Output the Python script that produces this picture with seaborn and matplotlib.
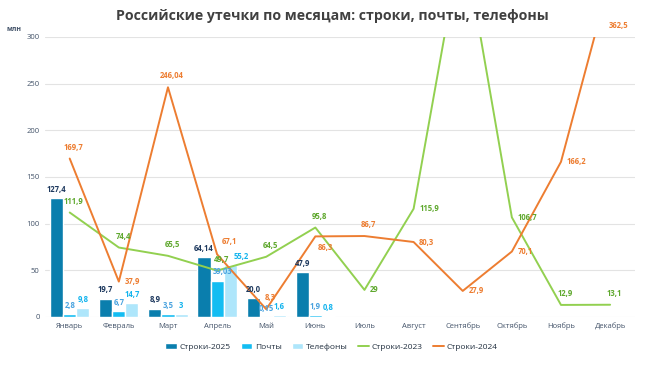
#
# Российские утечки по месяцам: строки, почты, телефоны
#
import numpy as np
import pandas as pd
import matplotlib
matplotlib.use('Agg')
import matplotlib.pyplot as plt
import seaborn as sns

# ------------------------------------------------------------- #
# Data
#
months = ['Январь', 'Февраль', 'Март', 'Апрель', 'Май', 'Июнь',
          'Июль', 'Август', 'Сентябрь', 'Октябрь', 'Ноябрь', 'Декабрь']

rows_2025 = [127.4, 19.7, 8.9, 64.14, 20.0, 47.9]
emails_2025 = [2.8, 6.7, 3.5, 39.03, 0.15, 1.9]
phones_2025 = [9.8, 14.7, 3.0, 55.2, 1.6, 0.8]

rows_2023 = [111.9, 74.4, 65.5, 49.7, 64.5, 95.8, 29, 115.9, 410, 106.7, 12.9, 13.1]
rows_2024 = [169.7, 37.9, 246.04, 67.1, 8.3, 86.3, 86.7, 80.3, 27.9, 70.1, 166.2, 362.5]

# label texts as printed on the chart (comma decimals)
lbl_2025 = ['127,4', '19,7', '8,9', '64,14', '20,0', '47,9']
lbl_emails = ['2,8', '6,7', '3,5', '39,03', '0,15', '1,9']
lbl_phones = ['9,8', '14,7', '3', '55,2', '1,6', '0,8']
lbl_2023 = ['111,9', '74,4', '65,5', '49,7', '64,5', '95,8', '29', '115,9', '', '106,7', '12,9', '13,1']
lbl_2024 = ['169,7', '37,9', '246,04', '67,1', '8,3', '86,3', '86,7', '80,3', '27,9', '70,1', '166,2', '362,5']

bar_names = ['Строки-2025', 'Почты', 'Телефоны']
line_names = ['Строки-2023', 'Строки-2024']

# ------------------------------------------------------------- #
# Style
#
c_rows = '#0A7EAD'
c_mail = '#13BDF2'
c_phone = '#AEE6FB'
c_2023 = '#92D050'
c_2024 = '#ED7D31'
c_axis = '#44546A'

sns.set_theme(style='white')
plt.rcParams['font.family'] = ['Open Sans', 'DejaVu Sans']

# label placement per point: 'a' above, 'r' right, 'b' below
pos_2023 = ['a', 'a', 'a', 'a', 'a', 'a', 'r', 'r', 'a', 'r', 'a', 'a']
pos_2024 = ['a', 'r', 'a', 'ar', 'a', 'b', 'a', 'r', 'r', 'r', 'r', 'a']
# a few bar labels are pushed sideways (points), as on the original
bar_shift = {(1, 3): 4, (2, 3): 8}

# ------------------------------------------------------------- #
# Build frames
#
n = len(rows_2025)
bars = pd.DataFrame({
    'month': months[:n] * 3,
    'value': rows_2025 + emails_2025 + phones_2025,
    'series': [bar_names[0]] * n + [bar_names[1]] * n + [bar_names[2]] * n,
})
lines = pd.DataFrame({
    'x': list(range(12)) * 2,
    'value': rows_2023 + rows_2024,
    'series': [line_names[0]] * 12 + [line_names[1]] * 12,
})

fig = plt.figure(figsize=(6.45, 3.69), dpi=100)
ax = fig.add_axes([0.07, 0.141, 0.914, 0.759])

sns.barplot(data=bars, x='month', y='value', hue='series', order=months,
            hue_order=bar_names, palette=[c_rows, c_mail, c_phone],
            width=0.8, gap=0, saturation=1, ax=ax, legend=True)

sns.lineplot(data=lines, x='x', y='value', hue='series', hue_order=line_names,
             palette=[c_2023, c_2024], linewidth=1.4, estimator=None,
             sort=False, ax=ax, legend=True)

ax.set_xlim(-0.5, 11.5)
ax.set_ylim(0, 300)
ax.set_yticks(np.arange(0, 301, 50))
ax.yaxis.grid(True, color='#E3E3E3', linewidth=0.8)
ax.set_axisbelow(True)
for s in ax.spines.values():
    s.set_visible(False)
ax.set_xlabel('')
ax.set_ylabel('')
ax.tick_params(axis='both', length=0, labelsize=5.5, colors=c_axis, pad=4)
ax.text(-0.065, 1.015, 'млн', transform=ax.transAxes, fontsize=5,
        color=c_axis, fontweight='bold', ha='left', va='bottom')

# ------------------------------------------------------------- #
# Data labels
#
lab_kw = dict(fontsize=5.5, fontweight='bold', clip_on=False)

for k, (container, texts, col) in enumerate(zip(ax.containers,
                                                [lbl_2025, lbl_emails, lbl_phones],
                                                ['#1F3A5F', '#4AA3DF', '#13B4EE'])):
    for i, (rect, t) in enumerate(zip(container.patches, texts)):
        if rect.get_height() == 0 or np.isnan(rect.get_height()):
            continue
        dx = bar_shift.get((k, i), 0)
        ax.annotate(t, (rect.get_x() + rect.get_width() / 2, rect.get_height()),
                    xytext=(dx, 3), textcoords='offset points', ha='center',
                    va='bottom', color=col, **lab_kw)


def line_labels(vals, texts, places, col):
    for i, (v, t, p) in enumerate(zip(vals, texts, places)):
        if not t:
            continue
        y = min(v, 300)
        if v > 300:
            off, ha, va = (6, 5), 'center', 'bottom'
        elif p == 'r':
            off, ha, va = (4, 0), 'left', 'center'
        elif p == 'b':
            off, ha, va = (2, -5), 'left', 'top'
        elif p == 'ar':
            off, ha, va = (3, 6), 'left', 'bottom'
        else:
            off, ha, va = (3, 5), 'center', 'bottom'
        ax.annotate(t, (i, y), xytext=off, textcoords='offset points',
                    ha=ha, va=va, color=col, **lab_kw)


line_labels(rows_2023, lbl_2023, pos_2023, '#5FA82E')
line_labels(rows_2024, lbl_2024, pos_2024, c_2024)

# ------------------------------------------------------------- #
# Legend and title
#
h, l = ax.get_legend_handles_labels()
order = [l.index(nm) for nm in bar_names + line_names]
ax.legend([h[k] for k in order], [l[k] for k in order], loc='upper center',
          bbox_to_anchor=(0.486, -0.065), ncol=5, frameon=False, fontsize=6,
          handlelength=1.4, handleheight=0.7, columnspacing=1.2,
          handletextpad=0.3, labelcolor='#1F2D3D')

fig.suptitle('Российские утечки по месяцам: строки, почты, телефоны',
             x=0.515, y=0.975, fontsize=10.2, fontweight='bold', color='#404040')

fig.savefig('out.png', dpi=100)
